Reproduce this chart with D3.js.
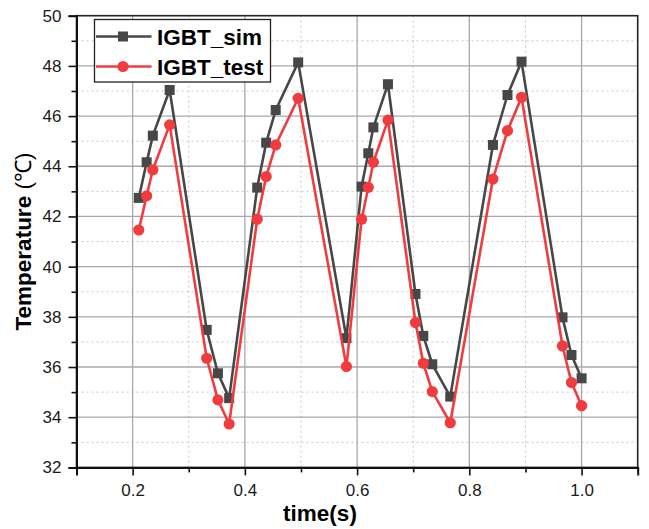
<!DOCTYPE html>
<html>
<head>
<meta charset="utf-8">
<script src="https://cdn.jsdelivr.net/npm/d3@7/dist/d3.min.js"></script>
<style>
  html, body { margin: 0; padding: 0; background: #fff; }
  svg { display: block; font-family: Arial, "Liberation Sans", sans-serif; }
</style>
</head>
<body>
<svg id="chart" width="649" height="529"></svg>
<script>
// Sampling times (s)
const time = [0.211, 0.225, 0.236, 0.266, 0.332, 0.352, 0.372, 0.422, 0.438, 0.455, 0.495,
              0.581, 0.608, 0.620, 0.629, 0.655, 0.704, 0.718, 0.734, 0.766,
              0.842, 0.868, 0.893, 0.966, 0.982, 1.000];
// Simulated IGBT temperature (°C)
const igbtSim = [42.74, 44.16, 45.22, 47.04, 37.48, 35.75, 34.76, 43.15, 44.94, 46.24, 48.14,
                 37.15, 43.19, 44.52, 45.55, 47.27, 38.91, 37.24, 36.11, 34.82,
                 44.85, 46.84, 48.17, 37.98, 36.48, 35.55];
// Measured IGBT temperature (°C)
const igbtTest = [41.46, 42.82, 43.86, 45.65, 36.35, 34.69, 33.73, 41.89, 43.59, 44.85, 46.71,
                  36.02, 41.89, 43.16, 44.16, 45.84, 37.77, 36.15, 35.02, 33.78,
                  43.49, 45.42, 46.75, 36.84, 35.38, 34.46];

const xTicks = [0.2, 0.4, 0.6, 0.8, 1.0];
const xMinor = [0.1, 0.3, 0.5, 0.7, 0.9, 1.1];
const yTicks = [32, 34, 36, 38, 40, 42, 44, 46, 48, 50];
const yMinor = [33, 35, 37, 39, 41, 43, 45, 47, 49];

const seriesNames = ["IGBT_sim", "IGBT_test"];
const colors = ["#474747", "#f03c3f"];

const svg = d3.select("#chart");
const L = 76.5, R = 637.7, T = 15.7, B = 467.4;

const x = d3.scaleLinear().domain([0.1, 1.1]).range([L, R]);
const y = d3.scaleLinear().domain([32, 50]).range([B, T]);

// grid: minor dotted, major solid
const grid = svg.append("g");
grid.selectAll(".gxm").data(xMinor.filter(v => v > 0.1 && v < 1.1)).join("line")
  .attr("x1", d => x(d)).attr("x2", d => x(d)).attr("y1", T).attr("y2", B)
  .attr("stroke", "#c8c8c8").attr("stroke-width", 1).attr("stroke-dasharray", "2,3");
grid.selectAll(".gym").data(yMinor).join("line")
  .attr("x1", L).attr("x2", R).attr("y1", d => y(d)).attr("y2", d => y(d))
  .attr("stroke", "#c8c8c8").attr("stroke-width", 1).attr("stroke-dasharray", "2,3");
grid.selectAll(".gx").data(xTicks).join("line")
  .attr("x1", d => x(d)).attr("x2", d => x(d)).attr("y1", T).attr("y2", B)
  .attr("stroke", "#a8a8a8").attr("stroke-width", 1.3);
grid.selectAll(".gy").data(yTicks.filter(v => v > 32 && v < 50)).join("line")
  .attr("x1", L).attr("x2", R).attr("y1", d => y(d)).attr("y2", d => y(d))
  .attr("stroke", "#a8a8a8").attr("stroke-width", 1.3);

// frame
svg.append("rect").attr("x", L).attr("y", T).attr("width", R - L).attr("height", B - T)
  .attr("fill", "none").attr("stroke", "#222").attr("stroke-width", 1.6);

// axes
svg.append("g").attr("transform", `translate(0,${B})`)
  .call(d3.axisBottom(x).tickValues(xTicks).tickFormat(d3.format(".1f")).tickSize(8).tickPadding(9));
svg.append("g").attr("transform", `translate(0,${B})`)
  .call(d3.axisBottom(x).tickValues(xMinor).tickFormat("").tickSize(5))
  .select(".domain").remove();
svg.append("g").attr("transform", `translate(${L},0)`)
  .call(d3.axisLeft(y).tickValues(yTicks).tickFormat(d3.format("d")).tickSize(8).tickPadding(7));
svg.append("g").attr("transform", `translate(${L},0)`)
  .call(d3.axisLeft(y).tickValues(yMinor).tickFormat("").tickSize(5))
  .select(".domain").remove();
svg.selectAll(".domain").attr("stroke", "#111").attr("stroke-width", 2);
svg.selectAll(".tick line").attr("stroke", "#111").attr("stroke-width", 1.6);
svg.selectAll(".tick text").attr("font-size", 17).attr("fill", "#1a1a1a")
  .attr("font-family", "Arial, 'Liberation Sans', sans-serif");

// axis titles
svg.append("text").attr("x", 320).attr("y", 520.5).attr("text-anchor", "middle")
  .attr("font-size", 22.5).attr("font-weight", "bold").attr("fill", "#000").text("time(s)");
const yt = svg.append("text").attr("transform", `translate(31,${(T + B) / 2}) rotate(-90)`)
  .attr("text-anchor", "middle").attr("font-size", 22.5).attr("fill", "#000");
yt.append("tspan").attr("font-weight", "bold").text("Temperature ");
yt.append("tspan").attr("font-weight", "normal").text("(℃)");

// series
const datasets = [igbtSim, igbtTest].map(vals => time.map((t, i) => ({ t, v: vals[i] })));
const line = d3.line().x(d => x(d.t)).y(d => y(d.v));

datasets.forEach((data, k) => {
  const g = svg.append("g");
  g.append("path").datum(data).attr("d", line).attr("fill", "none")
    .attr("stroke", colors[k]).attr("stroke-width", 2.6).attr("stroke-linejoin", "round");
  if (k === 0) {
    g.selectAll("rect").data(data).join("rect")
      .attr("x", d => x(d.t) - 5).attr("y", d => y(d.v) - 5)
      .attr("width", 10).attr("height", 10).attr("fill", colors[k]);
  } else {
    g.selectAll("circle").data(data).join("circle")
      .attr("cx", d => x(d.t)).attr("cy", d => y(d.v)).attr("r", 5.6).attr("fill", colors[k]);
  }
});

// legend
const lg = svg.append("g");
lg.append("rect").attr("x", 94.5).attr("y", 19.5).attr("width", 176).attr("height", 62.5)
  .attr("fill", "#fff").attr("stroke", "#222").attr("stroke-width", 1.3);
seriesNames.forEach((name, k) => {
  const yy = 36.5 + k * 30;
  lg.append("line").attr("x1", 96).attr("x2", 151.5).attr("y1", yy).attr("y2", yy)
    .attr("stroke", colors[k]).attr("stroke-width", 2.6);
  if (k === 0) {
    lg.append("rect").attr("x", 123 - 5).attr("y", yy - 5).attr("width", 10).attr("height", 10).attr("fill", colors[k]);
  } else {
    lg.append("circle").attr("cx", 123).attr("cy", yy).attr("r", 5.6).attr("fill", colors[k]);
  }
  lg.append("text").attr("x", 157).attr("y", yy + 8).attr("font-size", 22.5).attr("font-weight", "bold")
    .attr("fill", "#000").text(name);
});
</script>
</body>
</html>
